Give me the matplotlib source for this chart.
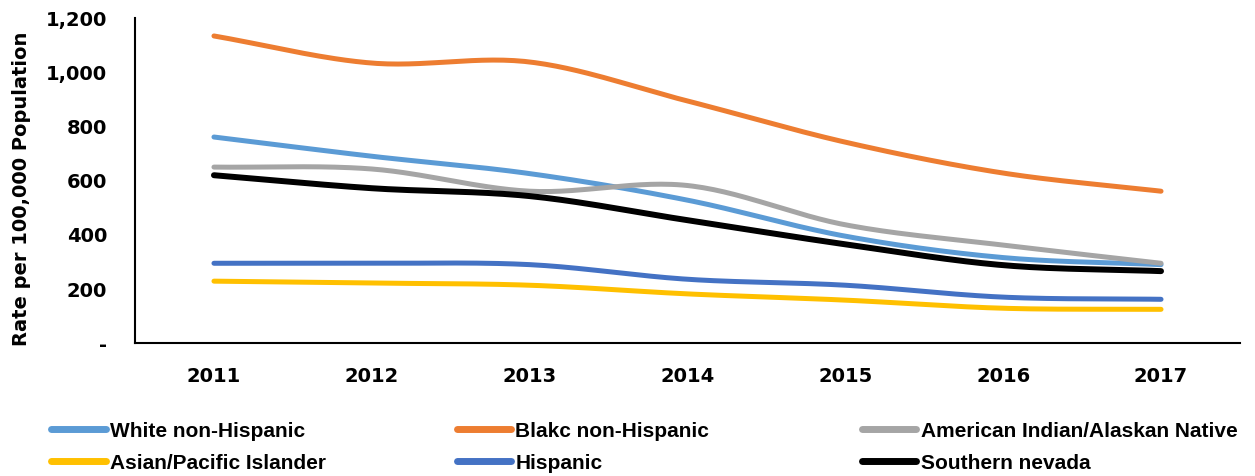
import numpy as np
import matplotlib
matplotlib.use("Agg")
import matplotlib.pyplot as plt

years = ["2011", "2012", "2013", "2014", "2015", "2016", "2017"]
white = [761, 690, 626, 528, 395, 316, 290]
black = [1134, 1034, 1038, 894, 742, 628, 561]
aian = [650, 643, 561, 582, 437, 362, 295]
asian = [229, 222, 214, 182, 159, 129, 125]
hispanic = [295, 295, 290, 236, 214, 170, 162]
southern = [620, 572, 543, 454, 365, 288, 266]

series = [
    ("White non-Hispanic", white, "#5B9BD5", 3.6),
    ("Blakc non-Hispanic", black, "#ED7D31", 3.6),
    ("American Indian/Alaskan Native", aian, "#A5A5A5", 3.6),
    ("Asian/Pacific Islander", asian, "#FFC000", 3.6),
    ("Hispanic", hispanic, "#4472C4", 3.6),
    ("Southern nevada", southern, "#000000", 4.3),
]


def smooth(x, y, n=30):
    """Catmull-Rom style smoothing through the data points (like Excel smoothed lines)."""
    x = np.asarray(x, float)
    y = np.asarray(y, float)
    xp = np.concatenate([[2 * x[0] - x[1]], x, [2 * x[-1] - x[-2]]])
    yp = np.concatenate([[2 * y[0] - y[1]], y, [2 * y[-1] - y[-2]]])
    xs, ys = [], []
    for i in range(1, len(xp) - 2):
        t = np.linspace(0, 1, n, endpoint=(i == len(xp) - 3))
        def cr(a0, a1, a2, a3):
            return 0.5 * ((2 * a1) + (-a0 + a2) * t + (2 * a0 - 5 * a1 + 4 * a2 - a3) * t ** 2
                          + (-a0 + 3 * a1 - 3 * a2 + a3) * t ** 3)
        xs.append(cr(xp[i - 1], xp[i], xp[i + 1], xp[i + 2]))
        ys.append(cr(yp[i - 1], yp[i], yp[i + 1], yp[i + 2]))
    return np.concatenate(xs), np.concatenate(ys)


fig = plt.figure(figsize=(12.55, 4.76), dpi=100)
ax = fig.add_axes([0.1076, 0.279, 0.8804, 0.683])

xi = np.arange(len(years))
handles = {}
for name, vals, color, lw in series:
    sx, sy = smooth(xi, vals)
    h, = ax.plot(sx, sy, color=color, lw=lw, solid_capstyle="round", label=name)
    handles[name] = h

ax.set_xlim(-0.5, len(years) - 0.5)
ax.set_ylim(0, 1200)
ax.set_yticks([0, 200, 400, 600, 800, 1000, 1200])
ax.set_yticklabels(["-", "200", "400", "600", "800", "1,000", "1,200"])
ax.set_xticks(xi)
ax.set_xticklabels(years)
for lab in ax.get_xticklabels() + ax.get_yticklabels():
    lab.set_fontweight("bold")
    lab.set_fontsize(14)
ax.tick_params(axis="both", length=0)
ax.tick_params(axis="y", pad=20)
ax.tick_params(axis="x", pad=17)
for s in ["top", "right"]:
    ax.spines[s].set_visible(False)
for s in ["left", "bottom"]:
    ax.spines[s].set_color("#000000")
    ax.spines[s].set_linewidth(1.5)
ax.set_ylabel("Rate per 100,000 Population", fontsize=14, fontweight="bold")
ax.yaxis.set_label_coords(-0.094, 0.475)

columns = [
    (["White non-Hispanic", "Asian/Pacific Islander"], 0.041),
    (["Blakc non-Hispanic", "Hispanic"], 0.364),
    (["American Indian/Alaskan Native", "Southern nevada"], 0.687),
]
for names, x0 in columns:
    leg = fig.legend([handles[k] for k in names], names, ncol=1, loc="upper left",
                     bbox_to_anchor=(x0, 0.114), frameon=False, borderpad=0, borderaxespad=0,
                     handlelength=2.6, handletextpad=0.2, labelspacing=0.62,
                     prop={"family": ["Liberation Sans", "DejaVu Sans"], "weight": "bold", "size": 15})
    for ln in leg.get_lines():
        ln.set_linewidth(5)

fig.savefig("out.png", dpi=100)
